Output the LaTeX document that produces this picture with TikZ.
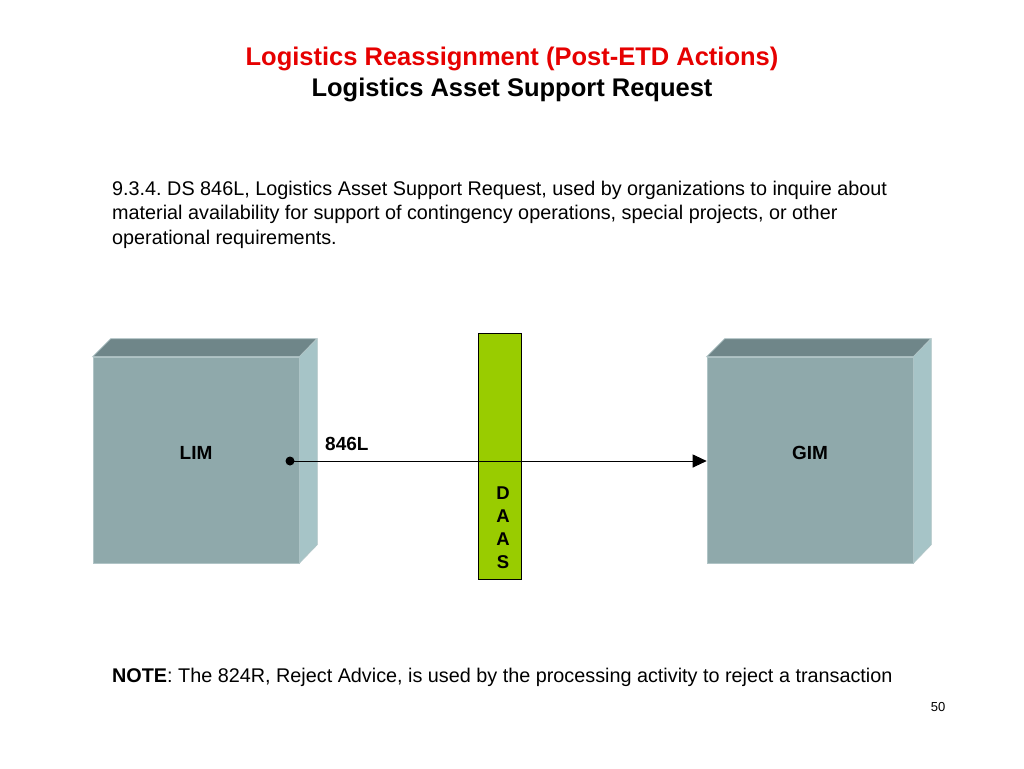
\documentclass[tikz,border=0pt]{standalone}
\usepackage{fontspec}
\setmainfont{Liberation Sans}
\usetikzlibrary{arrows.meta}
\frenchspacing
\definecolor{frontc}{RGB}{143,169,171}
\definecolor{topc}{RGB}{111,134,137}
\definecolor{sidec}{RGB}{166,196,199}
\definecolor{edgec}{RGB}{176,196,198}
\definecolor{daasc}{RGB}{153,204,0}
\definecolor{titlered}{RGB}{230,0,0}
\tikzset{
  front/.style={draw=edgec, line width=0.6pt, fill=frontc, minimum width=206pt, minimum height=206pt, inner sep=0pt},
  topface/.style={fill=topc, draw=edgec, line width=0.6pt},
  sideface/.style={fill=sidec, draw=edgec, line width=0.6pt},
  boxlabel/.style={font=\fontsize{19}{22}\selectfont\bfseries},
  bodytext/.style={font=\fontsize{19.8}{24.5}\selectfont, anchor=base west, align=left, inner sep=0pt},
  daasbar/.style={draw=black, line width=0.6pt, fill=daasc, minimum width=43pt, minimum height=246pt, inner sep=0pt},
  msg/.style={line width=1pt, -{Triangle[length=14pt,width=13pt]}},
}
\begin{document}
\begin{tikzpicture}[x=1pt,y=-1pt]
\useasboundingbox[fill=white] (0,0) rectangle (1024,768);
% titles
\node[font=\fontsize{25.5}{30}\selectfont\bfseries, text=titlered, anchor=base] (t1) at (512,65) {Logistics Reassignment (Post-ETD Actions)};
\node[font=\fontsize{25.5}{30}\selectfont\bfseries, anchor=base] (t2) at (512,96) {Logistics Asset Support Request};
% body (anchor at baseline of last line)
\node[bodytext] (body) at (112,244) {9.3.4. DS 846L, Logistics Asset Support Request, used by organizations to inquire about\\material availability for support of contingency operations, special projects, or other\\operational requirements.};
% LIM box
\node[front] (limbox) at (196,460) {};
\fill[topface] (limbox.north west) -- ++(18,-18) -- ++(206,0) -- (limbox.north east) -- cycle;
\fill[sideface] (limbox.north east) -- ++(18,-18) -- ++(0,206) -- (limbox.south east) -- cycle;
\node[boxlabel] (lim) at (196,453) {LIM};
% GIM box
\node[front] (gimbox) at (810,460) {};
\fill[topface] (gimbox.north west) -- ++(18,-18) -- ++(206,0) -- (gimbox.north east) -- cycle;
\fill[sideface] (gimbox.north east) -- ++(18,-18) -- ++(0,206) -- (gimbox.south east) -- cycle;
\node[boxlabel] (gim) at (810,453) {GIM};
% DAAS
\node[daasbar] (daas) at (499.5,456) {};
\node[font=\fontsize{18.5}{23}\selectfont\bfseries, align=center, anchor=north, inner sep=0pt] (daaslbl) at (503,487) {D\\A\\A\\S};
% connector
\coordinate (src) at (290,461);
\fill (src) circle (4.5);
\draw[msg] (src) -- (gimbox.west |- src);
\node[boxlabel, anchor=base west, inner sep=0pt] (m) at (325,450) {846L};
% note
\node[bodytext] (note) at (112,682) {\textbf{NOTE}: The 824R, Reject Advice, is used by the processing activity to reject a transaction};
\node[font=\fontsize{13}{15}\selectfont, anchor=base] (pg) at (938,711) {50};
\end{tikzpicture}
\end{document}
